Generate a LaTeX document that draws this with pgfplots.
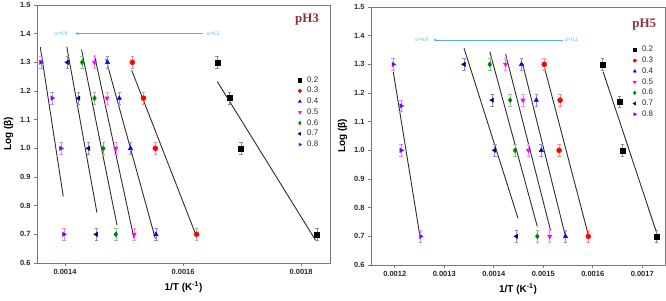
\documentclass[border=0pt]{standalone}
\usepackage{fontspec}
\setmainfont{Liberation Sans}
\newfontfamily\seriffont{Liberation Serif}
\usepackage{pgfplots}
\pgfplotsset{compat=1.18}
\usetikzlibrary{arrows.meta}

\definecolor{cA}{RGB}{0,0,0}
\definecolor{cB}{RGB}{255,0,0}
\definecolor{cC}{RGB}{0,0,255}
\definecolor{cD}{RGB}{255,0,255}
\definecolor{cE}{RGB}{0,128,0}
\definecolor{cF}{RGB}{0,0,128}
\definecolor{cG}{RGB}{128,0,255}
\definecolor{fitc}{RGB}{45,45,45}
\definecolor{arrowc}{RGB}{85,170,255}
\definecolor{phc}{RGB}{140,50,60}
\definecolor{framec}{RGB}{120,120,120}
\definecolor{tickc}{RGB}{40,40,40}

\tikzset{
  alab/.style={font=\seriffont\fontsize{5.5}{6}\selectfont, text=arrowc, fill=white, inner sep=0.6bp},
  phlab/.style={font=\seriffont\bfseries\fontsize{13}{14}\selectfont, text=phc},
}

\pgfplotsset{
  panel/.style={
    scale only axis,
    ymin=0.6, ymax=1.5,
    ytick={0.6,0.7,0.8,0.9,1.0,1.1,1.2,1.3,1.4,1.5},
    yticklabel style={/pgf/number format/.cd, fixed, fixed zerofill, precision=1},
    xticklabel style={/pgf/number format/.cd, fixed, fixed zerofill, precision=4},
    scaled x ticks=false,
    /pgf/number format/assume math mode=true,
    tick label style={font=\bfseries\fontsize{7.5}{9}\selectfont, text=tickc},
    label style={font=\bfseries\fontsize{10}{12}\selectfont, text=black},
    xlabel={1/T (K\textsuperscript{-1})},
    ylabel={Log (β)},
    axis line style={framec, line width=0.8bp},
    tick style={framec, line width=0.6bp},
    tick align=outside, major tick length=3bp,
    xtick pos=bottom, ytick pos=left,
    legend cell align=left,
    legend style={draw=none, fill=none, font=\fontsize{8}{9.5}\selectfont, text=tickc, row sep=-0.3bp, inner sep=1bp},
  },
  ser/.style={only marks, mark size=2.5bp, color=#1, mark options={fill=#1, draw=#1},
    legend image code/.code={\path (0cm,0cm) (0.36cm,0cm); \draw[##1, draw=none, mark size=1.8bp] plot coordinates {(0.18cm,0cm)};},
    error bars/y dir=both, error bars/y explicit,
    error bars/error bar style={color=#1!45, line width=0.5bp},
    error bars/error mark options={rotate=90, mark size=1.8bp, color=#1!45}},
  fit/.style={fitc, line width=0.9bp, forget plot, mark=none},
  arr/.style={arrowc, line width=0.7bp, forget plot, -{Stealth[length=3.5bp,width=3bp]}},
}

\begin{document}
\begin{tikzpicture}
\path[use as bounding box] (0,0) rectangle (666bp,301bp);

% ---------------- pH3 ----------------
\begin{axis}[panel, at={(37bp,38bp)}, anchor=south west, width=293bp, height=258bp,
  xmin=0.0013525, xmax=0.001849, xtick={0.0014,0.0016,0.0018},
  legend style={at={(0.875,0.735)}, anchor=north west}]
\addplot[fit] coordinates {(0.001658,1.233) (0.001825,0.678)};
\addplot[fit] coordinates {(0.001513,1.272) (0.001622,0.697)};
\addplot[fit] coordinates {(0.001469,1.313) (0.001553,0.685)};
\addplot[fit] coordinates {(0.001450,1.324) (0.001517,0.685)};
\addplot[fit] coordinates {(0.001428,1.344) (0.001488,0.733)};
\addplot[fit] coordinates {(0.001403,1.354) (0.001454,0.776)};
\addplot[fit] coordinates {(0.001358,1.354) (0.001397,0.832)};
\addplot[arr] coordinates {(0.001634,1.40) (0.001417,1.40)};
\node[alab] at (axis cs:0.001393,1.40) {α=0.8};
\node[alab] at (axis cs:0.001651,1.40) {α=0.2};
\node[phlab] at (axis cs:0.001810,1.448) {pH3};
\addplot[ser=cA, mark=square*] coordinates {(0.001658,1.30)+-(0,0.02) (0.001679,1.175)+-(0,0.02) (0.001698,1.00)+-(0,0.02) (0.001827,0.70)+-(0,0.02)};
\addplot[ser=cB, mark=*] coordinates {(0.001514,1.30)+-(0,0.02) (0.001533,1.175)+-(0,0.02) (0.001553,1.00)+-(0,0.02) (0.001623,0.70)+-(0,0.02)};
\addplot[ser=cC, mark=triangle*] coordinates {(0.001472,1.30)+-(0,0.02) (0.001492,1.175)+-(0,0.02) (0.001511,1.00)+-(0,0.02) (0.001554,0.70)+-(0,0.02)};
\addplot[ser=cD, mark=triangle*, mark options={rotate=180}] coordinates {(0.001450,1.30)+-(0,0.02) (0.001471,1.175)+-(0,0.02) (0.001486,1.00)+-(0,0.02) (0.001517,0.70)+-(0,0.02)};
\addplot[ser=cE, mark=diamond*] coordinates {(0.001429,1.30)+-(0,0.02) (0.001450,1.175)+-(0,0.02) (0.001465,1.00)+-(0,0.02) (0.001486,0.70)+-(0,0.02)};
\addplot[ser=cF, mark=triangle*, mark options={rotate=90}] coordinates {(0.001404,1.30)+-(0,0.02) (0.001423,1.175)+-(0,0.02) (0.001440,1.00)+-(0,0.02) (0.001453,0.70)+-(0,0.02)};
\addplot[ser=cG, mark=triangle*, mark options={rotate=-90}] coordinates {(0.001359,1.30)+-(0,0.02) (0.001378,1.175)+-(0,0.02) (0.001393,1.00)+-(0,0.02) (0.001398,0.70)+-(0,0.02)};
\legend{0.2,0.3,0.4,0.5,0.6,0.7,0.8}
\end{axis}

% ---------------- pH5 ----------------
\begin{axis}[panel, at={(371bp,36bp)}, anchor=south west, width=294bp, height=258bp,
  xmin=0.001152, xmax=0.001746, xtick={0.0012,0.0013,0.0014,0.0015,0.0016,0.0017},
  legend style={at={(0.875,0.86)}, anchor=north west}]
\addplot[fit] coordinates {(0.001621,1.274) (0.001732,0.697)};
\addplot[fit] coordinates {(0.001502,1.292) (0.001591,0.705)};
\addplot[fit] coordinates {(0.001458,1.304) (0.001545,0.699)};
\addplot[fit] coordinates {(0.001424,1.335) (0.001515,0.719)};
\addplot[fit] coordinates {(0.001392,1.344) (0.001488,0.734)};
\addplot[fit] coordinates {(0.001340,1.356) (0.001449,0.763)};
\addplot[fit] coordinates {(0.001197,1.274) (0.001250,0.710)};
\addplot[arr] coordinates {(0.001540,1.385) (0.001278,1.385)};
\node[alab] at (axis cs:0.0012546,1.385) {α=0.8};
\node[alab] at (axis cs:0.001557,1.385) {α=0.2};
\node[phlab] at (axis cs:0.001704,1.437) {pH5};
\addplot[ser=cA, mark=square*] coordinates {(0.001620,1.30)+-(0,0.02) (0.001654,1.17)+-(0,0.02) (0.001660,1.00)+-(0,0.02) (0.001729,0.70)+-(0,0.02)};
\addplot[ser=cB, mark=*] coordinates {(0.001502,1.30)+-(0,0.02) (0.001534,1.175)+-(0,0.02) (0.001532,1.00)+-(0,0.02) (0.001591,0.70)+-(0,0.02)};
\addplot[ser=cC, mark=triangle*] coordinates {(0.001456,1.30)+-(0,0.02) (0.001486,1.175)+-(0,0.02) (0.001496,1.00)+-(0,0.02) (0.001545,0.70)+-(0,0.02)};
\addplot[ser=cD, mark=triangle*, mark options={rotate=180}] coordinates {(0.001424,1.30)+-(0,0.02) (0.001459,1.175)+-(0,0.02) (0.001470,1.00)+-(0,0.02) (0.001513,0.70)+-(0,0.02)};
\addplot[ser=cE, mark=diamond*] coordinates {(0.001392,1.30)+-(0,0.02) (0.001433,1.175)+-(0,0.02) (0.001443,1.00)+-(0,0.02) (0.001488,0.70)+-(0,0.02)};
\addplot[ser=cF, mark=triangle*, mark options={rotate=90}] coordinates {(0.001340,1.30)+-(0,0.02) (0.001397,1.175)+-(0,0.02) (0.001402,1.00)+-(0,0.02) (0.001446,0.70)+-(0,0.02)};
\addplot[ser=cG, mark=triangle*, mark options={rotate=-90}] coordinates {(0.001197,1.30)+-(0,0.02) (0.001213,1.155)+-(0,0.02) (0.001213,1.00)+-(0,0.02) (0.001252,0.70)+-(0,0.02)};
\legend{0.2,0.3,0.4,0.5,0.6,0.7,0.8}
\end{axis}
\end{tikzpicture}
\end{document}
